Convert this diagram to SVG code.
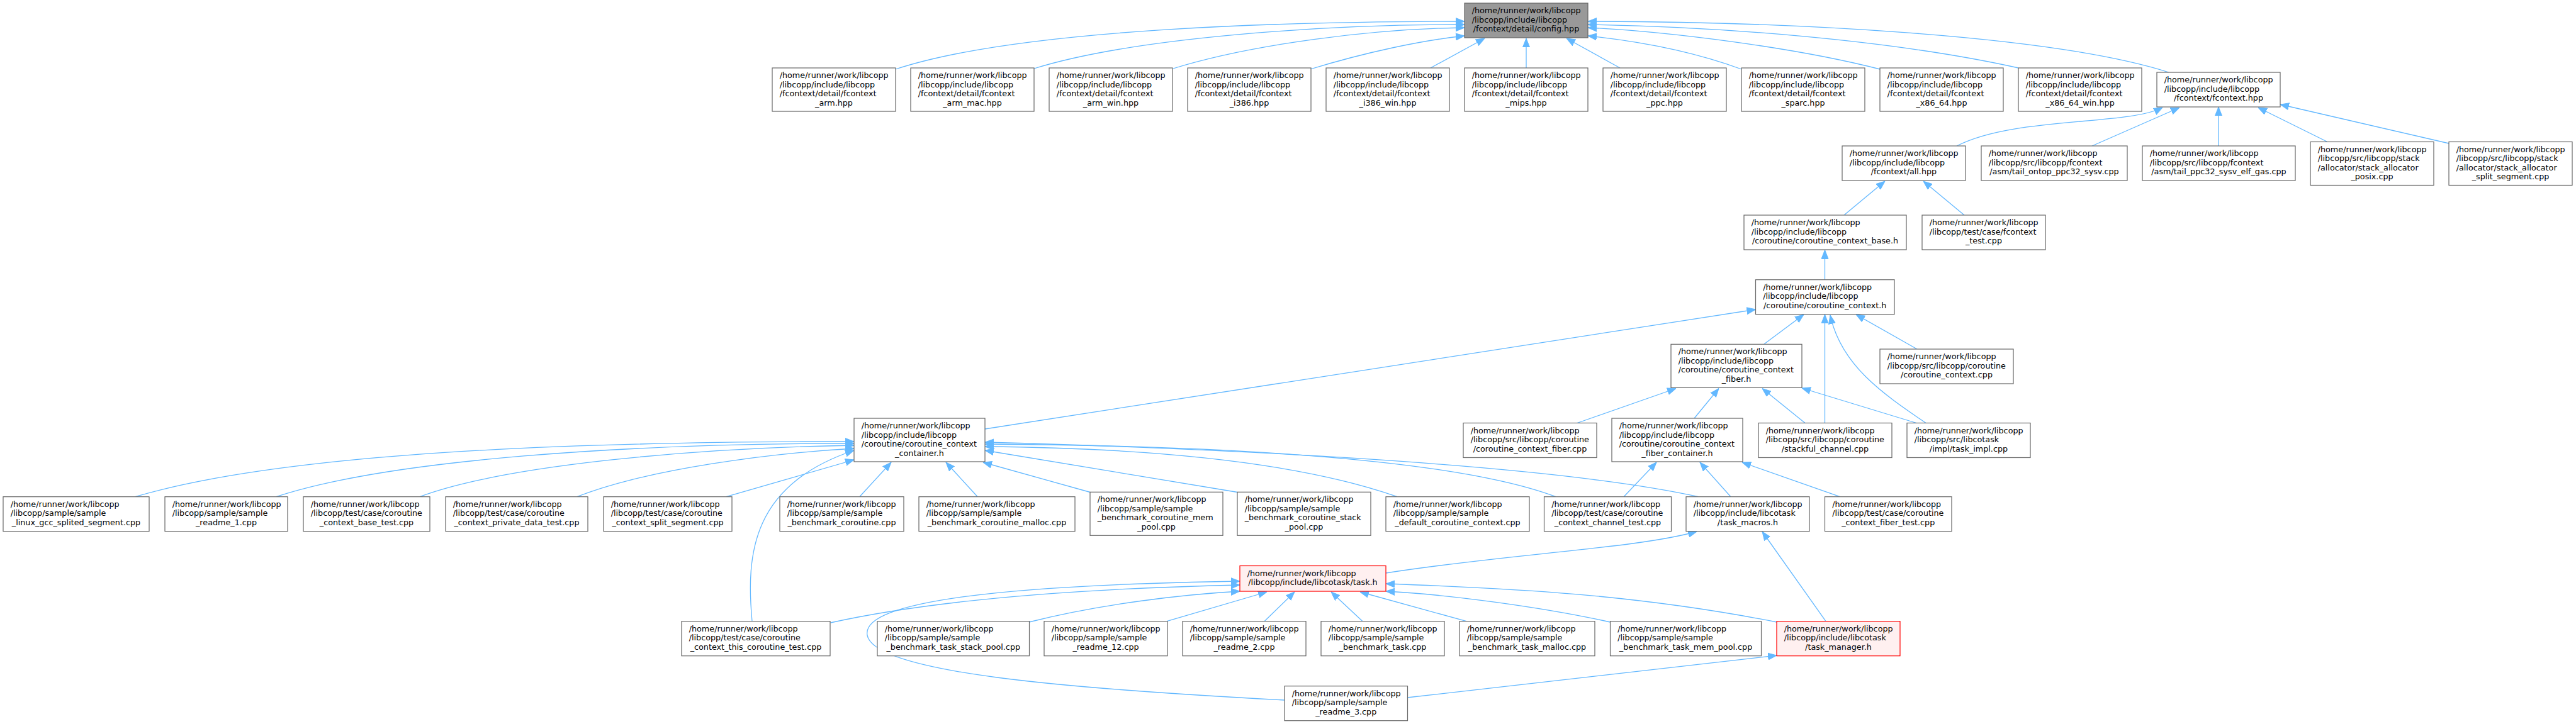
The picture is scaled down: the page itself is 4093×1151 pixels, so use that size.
<svg xmlns="http://www.w3.org/2000/svg" width="4093" height="1151" viewBox="0 0 4093 1151">
<style>
.n rect{fill:#ffffff;stroke:#666666;stroke-width:1.2}
.root rect{fill:#999999}
.red rect{fill:#fff0f0;stroke:#ff0000}
text{font-family:"DejaVu Sans","Liberation Sans",sans-serif;font-size:12.75px;fill:#000000}
.c{text-anchor:middle}
#edges path{fill:none;stroke:#63b8ff;stroke-width:1.3;marker-end:url(#a)}
</style>
<defs>
<marker id="a" markerUnits="userSpaceOnUse" markerWidth="14" markerHeight="12" viewBox="0 0 14 12" refX="14" refY="6" orient="auto">
<path d="M0,0.5 L14,6 L0,11.5 z" fill="#63b8ff" stroke="#63b8ff" stroke-width="1"/>
</marker>
</defs>
<rect x="0" y="0" width="4093" height="1151" fill="#ffffff"/>
<g id="edges">
<path d="M1423,110 C1620,45 2050,34 2327,34"/>
<path d="M1643,109 C1800,60 2100,39 2327,39"/>
<path d="M1864,109 C1990,70 2180,46 2327,44"/>
<path d="M2082,110 C2170,83 2260,64 2327,57"/>
<path d="M2273,108 L2359,61"/>
<path d="M2425,108 L2425,61"/>
<path d="M2574,108 L2489,61"/>
<path d="M2767,110 C2680,78 2590,64 2523,57"/>
<path d="M2987,110 C2850,75 2650,50 2523,44"/>
<path d="M3207,108 C3000,62 2720,42 2523,39"/>
<path d="M3446,115 C3250,52 2800,34 2523,34"/>
<path d="M3109,232 C3200,185 3380,200 3436,171"/>
<path d="M3324,232 L3463,171"/>
<path d="M3525,232 L3525,170"/>
<path d="M3697,225 L3588,171"/>
<path d="M3891,228 L3623,166"/>
<path d="M2930,342 L2995,288"/>
<path d="M3121,342 L3056,288"/>
<path d="M2899.5,444.7 L2899.5,397.5"/>
<path d="M1565,682 L2789.5,492"/>
<path d="M2803,547 L2866,500"/>
<path d="M2899.5,672.5 L2899.5,500"/>
<path d="M3060,672.5 C2990,625 2925,580 2908,501"/>
<path d="M3046,555 L2949,500"/>
<path d="M2506,672.5 L2663,617.5"/>
<path d="M2692,665 L2731,617.5"/>
<path d="M2868,672.5 L2800,617.5"/>
<path d="M3045,672.5 L2863,617"/>
<path d="M215,789.7 C450,720 900,702 1357,702"/>
<path d="M439,789.7 C620,730 1000,705 1357,705"/>
<path d="M667,789.7 C800,740 1100,712 1357,708"/>
<path d="M917,789.7 C1030,745 1230,720 1357,713"/>
<path d="M1154,789.7 L1357,731"/>
<path d="M1195,987.7 C1185,880 1195,770 1357,716"/>
<path d="M1366,789.5 L1416,735"/>
<path d="M1553,789.5 L1503,735"/>
<path d="M1732,782.5 L1562,735"/>
<path d="M1966,782.5 L1565,716"/>
<path d="M2220,789.7 C2050,730 1800,712 1565,710"/>
<path d="M2472,789.7 C2300,725 1900,708 1565,706"/>
<path d="M2698.5,789.7 C2450,735 1900,712 1565,703"/>
<path d="M2580,789.7 L2632,735"/>
<path d="M2750,789.7 L2701,735"/>
<path d="M2923.5,789.7 L2768,735"/>
<path d="M2202,911 C2400,880 2600,872 2696,845"/>
<path d="M2901,987.7 L2800,845"/>
<path d="M1319.6,990 C1500,950 1750,935 1970,930"/>
<path d="M1635,989 C1750,960 1880,945 1970,940"/>
<path d="M1854,987.7 L2013,941"/>
<path d="M2009,987.7 L2057,941"/>
<path d="M2165,987.7 L2115,941"/>
<path d="M2330,987.7 L2161,941"/>
<path d="M2558.4,989 C2450,965 2300,945 2202,940"/>
<path d="M2823,989 C2600,945 2400,935 2202,928"/>
<path d="M2041,1113 C1700,1095 1390,1070 1378,1010 C1368,955 1600,930 1970,924"/>
<path d="M2236,1109 L2823,1042"/>
</g>
<g id="config" class="n root"><rect x="2327" y="5" width="196" height="55"/><text><tspan x="2338.7" y="21.25">/home/runner/work/libcopp</tspan><tspan x="2338.7" y="35.75">/libcopp/include/libcopp</tspan><tspan class="c" x="2425" y="50.25">/fcontext/detail/config.hpp</tspan></text></g>
<g id="arm" class="n"><rect x="1227" y="108" width="196" height="69"/><text><tspan x="1238.7" y="124">/home/runner/work/libcopp</tspan><tspan x="1238.7" y="138.5">/libcopp/include/libcopp</tspan><tspan x="1238.7" y="153">/fcontext/detail/fcontext</tspan><tspan class="c" x="1325" y="167.5">_arm.hpp</tspan></text></g>
<g id="arm_mac" class="n"><rect x="1447" y="108" width="196" height="69"/><text><tspan x="1458.7" y="124">/home/runner/work/libcopp</tspan><tspan x="1458.7" y="138.5">/libcopp/include/libcopp</tspan><tspan x="1458.7" y="153">/fcontext/detail/fcontext</tspan><tspan class="c" x="1545" y="167.5">_arm_mac.hpp</tspan></text></g>
<g id="arm_win" class="n"><rect x="1667" y="108" width="196" height="69"/><text><tspan x="1678.7" y="124">/home/runner/work/libcopp</tspan><tspan x="1678.7" y="138.5">/libcopp/include/libcopp</tspan><tspan x="1678.7" y="153">/fcontext/detail/fcontext</tspan><tspan class="c" x="1765" y="167.5">_arm_win.hpp</tspan></text></g>
<g id="i386" class="n"><rect x="1887" y="108" width="196" height="69"/><text><tspan x="1898.7" y="124">/home/runner/work/libcopp</tspan><tspan x="1898.7" y="138.5">/libcopp/include/libcopp</tspan><tspan x="1898.7" y="153">/fcontext/detail/fcontext</tspan><tspan class="c" x="1985" y="167.5">_i386.hpp</tspan></text></g>
<g id="i386_win" class="n"><rect x="2107" y="108" width="196" height="69"/><text><tspan x="2118.7" y="124">/home/runner/work/libcopp</tspan><tspan x="2118.7" y="138.5">/libcopp/include/libcopp</tspan><tspan x="2118.7" y="153">/fcontext/detail/fcontext</tspan><tspan class="c" x="2205" y="167.5">_i386_win.hpp</tspan></text></g>
<g id="mips" class="n"><rect x="2327" y="108" width="196" height="69"/><text><tspan x="2338.7" y="124">/home/runner/work/libcopp</tspan><tspan x="2338.7" y="138.5">/libcopp/include/libcopp</tspan><tspan x="2338.7" y="153">/fcontext/detail/fcontext</tspan><tspan class="c" x="2425" y="167.5">_mips.hpp</tspan></text></g>
<g id="ppc" class="n"><rect x="2547" y="108" width="196" height="69"/><text><tspan x="2558.7" y="124">/home/runner/work/libcopp</tspan><tspan x="2558.7" y="138.5">/libcopp/include/libcopp</tspan><tspan x="2558.7" y="153">/fcontext/detail/fcontext</tspan><tspan class="c" x="2645" y="167.5">_ppc.hpp</tspan></text></g>
<g id="sparc" class="n"><rect x="2767" y="108" width="196" height="69"/><text><tspan x="2778.7" y="124">/home/runner/work/libcopp</tspan><tspan x="2778.7" y="138.5">/libcopp/include/libcopp</tspan><tspan x="2778.7" y="153">/fcontext/detail/fcontext</tspan><tspan class="c" x="2865" y="167.5">_sparc.hpp</tspan></text></g>
<g id="x86_64" class="n"><rect x="2987" y="108" width="196" height="69"/><text><tspan x="2998.7" y="124">/home/runner/work/libcopp</tspan><tspan x="2998.7" y="138.5">/libcopp/include/libcopp</tspan><tspan x="2998.7" y="153">/fcontext/detail/fcontext</tspan><tspan class="c" x="3085" y="167.5">_x86_64.hpp</tspan></text></g>
<g id="x86_64_win" class="n"><rect x="3207" y="108" width="196" height="69"/><text><tspan x="3218.7" y="124">/home/runner/work/libcopp</tspan><tspan x="3218.7" y="138.5">/libcopp/include/libcopp</tspan><tspan x="3218.7" y="153">/fcontext/detail/fcontext</tspan><tspan class="c" x="3305" y="167.5">_x86_64_win.hpp</tspan></text></g>
<g id="fcontext" class="n"><rect x="3427" y="115" width="196" height="55"/><text><tspan x="3438.7" y="131.25">/home/runner/work/libcopp</tspan><tspan x="3438.7" y="145.75">/libcopp/include/libcopp</tspan><tspan class="c" x="3525" y="160.25">/fcontext/fcontext.hpp</tspan></text></g>
<g id="all" class="n"><rect x="2927" y="232" width="196" height="55"/><text><tspan x="2938.7" y="248.25">/home/runner/work/libcopp</tspan><tspan x="2938.7" y="262.75">/libcopp/include/libcopp</tspan><tspan class="c" x="3025" y="277.25">/fcontext/all.hpp</tspan></text></g>
<g id="ontop" class="n"><rect x="3148" y="232" width="232" height="55"/><text><tspan x="3159.7" y="248.25">/home/runner/work/libcopp</tspan><tspan x="3159.7" y="262.75">/libcopp/src/libcopp/fcontext</tspan><tspan class="c" x="3264" y="277.25">/asm/tail_ontop_ppc32_sysv.cpp</tspan></text></g>
<g id="elfgas" class="n"><rect x="3404" y="232" width="243" height="55"/><text><tspan x="3415.7" y="248.25">/home/runner/work/libcopp</tspan><tspan x="3415.7" y="262.75">/libcopp/src/libcopp/fcontext</tspan><tspan class="c" x="3525.5" y="277.25">/asm/tail_ppc32_sysv_elf_gas.cpp</tspan></text></g>
<g id="posix" class="n"><rect x="3671" y="225.5" width="196" height="69"/><text><tspan x="3682.7" y="241.5">/home/runner/work/libcopp</tspan><tspan x="3682.7" y="256">/libcopp/src/libcopp/stack</tspan><tspan x="3682.7" y="270.5">/allocator/stack_allocator</tspan><tspan class="c" x="3769" y="285">_posix.cpp</tspan></text></g>
<g id="splitseg" class="n"><rect x="3891" y="225.5" width="196" height="69"/><text><tspan x="3902.7" y="241.5">/home/runner/work/libcopp</tspan><tspan x="3902.7" y="256">/libcopp/src/libcopp/stack</tspan><tspan x="3902.7" y="270.5">/allocator/stack_allocator</tspan><tspan class="c" x="3989" y="285">_split_segment.cpp</tspan></text></g>
<g id="base" class="n"><rect x="2771" y="342" width="258" height="55"/><text><tspan x="2782.7" y="358.25">/home/runner/work/libcopp</tspan><tspan x="2782.7" y="372.75">/libcopp/include/libcopp</tspan><tspan class="c" x="2900" y="387.25">/coroutine/coroutine_context_base.h</tspan></text></g>
<g id="fctest" class="n"><rect x="3054" y="342" width="196" height="55"/><text><tspan x="3065.7" y="358.25">/home/runner/work/libcopp</tspan><tspan x="3065.7" y="372.75">/libcopp/test/case/fcontext</tspan><tspan class="c" x="3152" y="387.25">_test.cpp</tspan></text></g>
<g id="ctx" class="n"><rect x="2789.5" y="444.7" width="220.5" height="55"/><text><tspan x="2801.2" y="460.95">/home/runner/work/libcopp</tspan><tspan x="2801.2" y="475.45">/libcopp/include/libcopp</tspan><tspan class="c" x="2899.75" y="489.95">/coroutine/coroutine_context.h</tspan></text></g>
<g id="fiber" class="n"><rect x="2655" y="547.3" width="208" height="69"/><text><tspan x="2666.7" y="563.3">/home/runner/work/libcopp</tspan><tspan x="2666.7" y="577.8">/libcopp/include/libcopp</tspan><tspan x="2666.7" y="592.3">/coroutine/coroutine_context</tspan><tspan class="c" x="2759" y="606.8">_fiber.h</tspan></text></g>
<g id="ctxcpp" class="n"><rect x="2987" y="555" width="212" height="55"/><text><tspan x="2998.7" y="571.25">/home/runner/work/libcopp</tspan><tspan x="2998.7" y="585.75">/libcopp/src/libcopp/coroutine</tspan><tspan class="c" x="3093" y="600.25">/coroutine_context.cpp</tspan></text></g>
<g id="container" class="n"><rect x="1357" y="665" width="208" height="69"/><text><tspan x="1368.7" y="681">/home/runner/work/libcopp</tspan><tspan x="1368.7" y="695.5">/libcopp/include/libcopp</tspan><tspan x="1368.7" y="710">/coroutine/coroutine_context</tspan><tspan class="c" x="1461" y="724.5">_container.h</tspan></text></g>
<g id="fibercpp" class="n"><rect x="2325" y="672.5" width="212" height="55"/><text><tspan x="2336.7" y="688.75">/home/runner/work/libcopp</tspan><tspan x="2336.7" y="703.25">/libcopp/src/libcopp/coroutine</tspan><tspan class="c" x="2431" y="717.75">/coroutine_context_fiber.cpp</tspan></text></g>
<g id="fibercont" class="n"><rect x="2561" y="665" width="208" height="69"/><text><tspan x="2572.7" y="681">/home/runner/work/libcopp</tspan><tspan x="2572.7" y="695.5">/libcopp/include/libcopp</tspan><tspan x="2572.7" y="710">/coroutine/coroutine_context</tspan><tspan class="c" x="2665" y="724.5">_fiber_container.h</tspan></text></g>
<g id="stackful" class="n"><rect x="2794" y="672.5" width="212" height="55"/><text><tspan x="2805.7" y="688.75">/home/runner/work/libcopp</tspan><tspan x="2805.7" y="703.25">/libcopp/src/libcopp/coroutine</tspan><tspan class="c" x="2900" y="717.75">/stackful_channel.cpp</tspan></text></g>
<g id="taskimpl" class="n"><rect x="3030" y="672.5" width="196" height="55"/><text><tspan x="3041.7" y="688.75">/home/runner/work/libcopp</tspan><tspan x="3041.7" y="703.25">/libcopp/src/libcotask</tspan><tspan class="c" x="3128" y="717.75">/impl/task_impl.cpp</tspan></text></g>
<g id="linux" class="n"><rect x="5" y="789.7" width="232" height="55"/><text><tspan x="16.7" y="805.95">/home/runner/work/libcopp</tspan><tspan x="16.7" y="820.45">/libcopp/sample/sample</tspan><tspan class="c" x="121" y="834.95">_linux_gcc_splited_segment.cpp</tspan></text></g>
<g id="readme1" class="n"><rect x="262" y="789.7" width="195" height="55"/><text><tspan x="273.7" y="805.95">/home/runner/work/libcopp</tspan><tspan x="273.7" y="820.45">/libcopp/sample/sample</tspan><tspan class="c" x="359.5" y="834.95">_readme_1.cpp</tspan></text></g>
<g id="basetest" class="n"><rect x="482" y="789.7" width="201" height="55"/><text><tspan x="493.7" y="805.95">/home/runner/work/libcopp</tspan><tspan x="493.7" y="820.45">/libcopp/test/case/coroutine</tspan><tspan class="c" x="582.5" y="834.95">_context_base_test.cpp</tspan></text></g>
<g id="private" class="n"><rect x="708" y="789.7" width="226" height="55"/><text><tspan x="719.7" y="805.95">/home/runner/work/libcopp</tspan><tspan x="719.7" y="820.45">/libcopp/test/case/coroutine</tspan><tspan class="c" x="821" y="834.95">_context_private_data_test.cpp</tspan></text></g>
<g id="splittest" class="n"><rect x="959" y="789.7" width="204" height="55"/><text><tspan x="970.7" y="805.95">/home/runner/work/libcopp</tspan><tspan x="970.7" y="820.45">/libcopp/test/case/coroutine</tspan><tspan class="c" x="1061" y="834.95">_context_split_segment.cpp</tspan></text></g>
<g id="bcoroutine" class="n"><rect x="1239" y="789.7" width="197" height="55"/><text><tspan x="1250.7" y="805.95">/home/runner/work/libcopp</tspan><tspan x="1250.7" y="820.45">/libcopp/sample/sample</tspan><tspan class="c" x="1337.5" y="834.95">_benchmark_coroutine.cpp</tspan></text></g>
<g id="bmalloc" class="n"><rect x="1460" y="789.7" width="248" height="55"/><text><tspan x="1471.7" y="805.95">/home/runner/work/libcopp</tspan><tspan x="1471.7" y="820.45">/libcopp/sample/sample</tspan><tspan class="c" x="1584" y="834.95">_benchmark_coroutine_malloc.cpp</tspan></text></g>
<g id="bmempool" class="n"><rect x="1732" y="782.3" width="211" height="69"/><text><tspan x="1743.7" y="798.3">/home/runner/work/libcopp</tspan><tspan x="1743.7" y="812.8">/libcopp/sample/sample</tspan><tspan x="1743.7" y="827.3">_benchmark_coroutine_mem</tspan><tspan class="c" x="1837.5" y="841.8">_pool.cpp</tspan></text></g>
<g id="bstackpool" class="n"><rect x="1966" y="782.3" width="212" height="69"/><text><tspan x="1977.7" y="798.3">/home/runner/work/libcopp</tspan><tspan x="1977.7" y="812.8">/libcopp/sample/sample</tspan><tspan x="1977.7" y="827.3">_benchmark_coroutine_stack</tspan><tspan class="c" x="2072" y="841.8">_pool.cpp</tspan></text></g>
<g id="defctx" class="n"><rect x="2202" y="789.7" width="228" height="55"/><text><tspan x="2213.7" y="805.95">/home/runner/work/libcopp</tspan><tspan x="2213.7" y="820.45">/libcopp/sample/sample</tspan><tspan class="c" x="2316" y="834.95">_default_coroutine_context.cpp</tspan></text></g>
<g id="chantest" class="n"><rect x="2453.5" y="789.7" width="202" height="55"/><text><tspan x="2465.2" y="805.95">/home/runner/work/libcopp</tspan><tspan x="2465.2" y="820.45">/libcopp/test/case/coroutine</tspan><tspan class="c" x="2554.5" y="834.95">_context_channel_test.cpp</tspan></text></g>
<g id="macros" class="n"><rect x="2679" y="789.7" width="196" height="55"/><text><tspan x="2690.7" y="805.95">/home/runner/work/libcopp</tspan><tspan x="2690.7" y="820.45">/libcopp/include/libcotask</tspan><tspan class="c" x="2777" y="834.95">/task_macros.h</tspan></text></g>
<g id="fibertest" class="n"><rect x="2899.5" y="789.7" width="201.5" height="55"/><text><tspan x="2911.2" y="805.95">/home/runner/work/libcopp</tspan><tspan x="2911.2" y="820.45">/libcopp/test/case/coroutine</tspan><tspan class="c" x="3000.25" y="834.95">_context_fiber_test.cpp</tspan></text></g>
<g id="task" class="n red"><rect x="1970" y="899.5" width="232" height="40.5"/><text><tspan x="1981.7" y="915.75">/home/runner/work/libcopp</tspan><tspan class="c" x="2086" y="930.25">/libcopp/include/libcotask/task.h</tspan></text></g>
<g id="thiscoro" class="n"><rect x="1083" y="987.7" width="236" height="55"/><text><tspan x="1094.7" y="1003.95">/home/runner/work/libcopp</tspan><tspan x="1094.7" y="1018.45">/libcopp/test/case/coroutine</tspan><tspan class="c" x="1201" y="1032.95">_context_this_coroutine_test.cpp</tspan></text></g>
<g id="btstack" class="n"><rect x="1394" y="987.7" width="241.5" height="55"/><text><tspan x="1405.7" y="1003.95">/home/runner/work/libcopp</tspan><tspan x="1405.7" y="1018.45">/libcopp/sample/sample</tspan><tspan class="c" x="1514.75" y="1032.95">_benchmark_task_stack_pool.cpp</tspan></text></g>
<g id="readme12" class="n"><rect x="1659" y="987.7" width="196" height="55"/><text><tspan x="1670.7" y="1003.95">/home/runner/work/libcopp</tspan><tspan x="1670.7" y="1018.45">/libcopp/sample/sample</tspan><tspan class="c" x="1757" y="1032.95">_readme_12.cpp</tspan></text></g>
<g id="readme2" class="n"><rect x="1879" y="987.7" width="196" height="55"/><text><tspan x="1890.7" y="1003.95">/home/runner/work/libcopp</tspan><tspan x="1890.7" y="1018.45">/libcopp/sample/sample</tspan><tspan class="c" x="1977" y="1032.95">_readme_2.cpp</tspan></text></g>
<g id="btask" class="n"><rect x="2099" y="987.7" width="196" height="55"/><text><tspan x="2110.7" y="1003.95">/home/runner/work/libcopp</tspan><tspan x="2110.7" y="1018.45">/libcopp/sample/sample</tspan><tspan class="c" x="2197" y="1032.95">_benchmark_task.cpp</tspan></text></g>
<g id="btmalloc" class="n"><rect x="2319" y="987.7" width="215" height="55"/><text><tspan x="2330.7" y="1003.95">/home/runner/work/libcopp</tspan><tspan x="2330.7" y="1018.45">/libcopp/sample/sample</tspan><tspan class="c" x="2426.5" y="1032.95">_benchmark_task_malloc.cpp</tspan></text></g>
<g id="btmempool" class="n"><rect x="2558.5" y="987.7" width="240" height="55"/><text><tspan x="2570.2" y="1003.95">/home/runner/work/libcopp</tspan><tspan x="2570.2" y="1018.45">/libcopp/sample/sample</tspan><tspan class="c" x="2678.5" y="1032.95">_benchmark_task_mem_pool.cpp</tspan></text></g>
<g id="taskmgr" class="n red"><rect x="2823" y="987.7" width="196" height="55"/><text><tspan x="2834.7" y="1003.95">/home/runner/work/libcopp</tspan><tspan x="2834.7" y="1018.45">/libcopp/include/libcotask</tspan><tspan class="c" x="2921" y="1032.95">/task_manager.h</tspan></text></g>
<g id="readme3" class="n"><rect x="2041" y="1090.7" width="195.5" height="55"/><text><tspan x="2052.7" y="1106.95">/home/runner/work/libcopp</tspan><tspan x="2052.7" y="1121.45">/libcopp/sample/sample</tspan><tspan class="c" x="2138.75" y="1135.95">_readme_3.cpp</tspan></text></g>
</svg>
